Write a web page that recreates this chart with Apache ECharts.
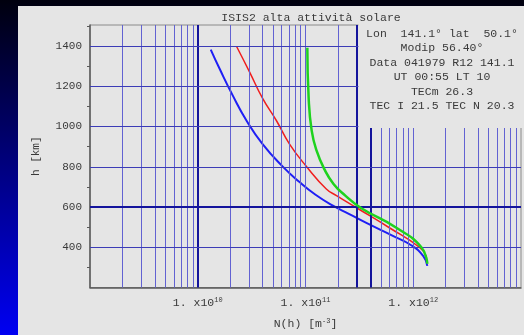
<!DOCTYPE html>
<html>
<head>
<meta charset="utf-8">
<script src="https://cdn.jsdelivr.net/npm/echarts@6.0.0/dist/echarts.min.js"></script>
<style>
  html, body { margin: 0; padding: 0; }
  body {
    width: 524px; height: 335px; overflow: hidden; position: relative;
    background: linear-gradient(to bottom, #00000e, #0000f2);
  }
  #panel { position: absolute; left: 18px; top: 6px; right: 0; bottom: 0; background: #e5e5e5; }
  #chart { position: absolute; left: 0; top: 0; width: 524px; height: 335px; }
</style>
</head>
<body>
<div id="panel"></div>
<div id="chart"></div>
<script>
// profili di densità elettronica N(h) [m^-3] vs quota h [km]
const blueN = [1.32e10, 1.60e10, 2.11e10, 2.84e10, 4.00e10, 6.12e10, 8.80e10, 1.24e11, 1.78e11, 2.55e11, 3.67e11, 6.40e11, 9.57e11, 1.24e12, 1.35e12];
const blueH = [1383, 1286, 1155, 1029, 913, 802, 724, 661, 608, 565, 521, 458, 410, 356, 308];

const redN = [2.30e10, 3.03e10, 4.00e10, 5.38e10, 7.11e10, 1.02e11, 1.56e11, 1.94e11, 3.03e11, 6.00e11, 1.14e12, 1.32e12];
const redH = [1397, 1271, 1140, 1029, 913, 802, 690, 657, 594, 497, 400, 356];

const greenN = [1.04e11, 1.07e11, 1.14e11, 1.26e11, 1.50e11, 1.82e11, 2.34e11, 3.30e11, 6.97e11, 1.19e12, 1.35e12];
const greenH = [1392, 1140, 981, 884, 787, 715, 657, 594, 497, 400, 318];

// griglia
const decades = [1e9, 1e10, 1e11, 1e12];
const mults = [1, 2, 3, 4, 5, 6, 7, 8, 9];
const thickN = [1e10, 3e11, 4e11];
const gridH = [400, 600, 800, 1000, 1200, 1400];
const thickH = [600];

const titleText = 'ISIS2 alta attività solare';
const infoLines = [
  'Lon  141.1\u00b0 lat  50.1\u00b0',
  'Modip 56.40\u00b0',
  'Data 041979 R12 141.1',
  'UT 00:55 LT 10',
  'TECm 26.3',
  'TEC I 21.5 TEC N 20.3'
];

const FONT = 'Liberation Mono';
const TXT = '#3a3a3a';

function pairs(xs, ys) {
  return xs.map((x, i) => [x, ys[i]]);
}

let gridLines = [];
decades.forEach(d => {
  mults.forEach(m => {
    const v = d * m;
    if (v <= 1e9) return;
    const thick = thickN.some(t => Math.abs(t - v) / t < 1e-6);
    gridLines.push({
      xAxis: v,
      lineStyle: thick ? {color: '#14149c', width: 2, type: 'solid'} : {color: '#6262d2', width: 1, type: 'solid'}
    });
  });
});
gridH.forEach(h => {
  const thick = thickH.indexOf(h) >= 0;
  gridLines.push({
    yAxis: h,
    lineStyle: thick ? {color: '#14149c', width: 2, type: 'solid'} : {color: '#3c3cb6', width: 1, type: 'solid'}
  });
});

let chart = echarts.init(document.getElementById('chart'), null, {renderer: 'canvas'});

let option = {
  animation: false,
  backgroundColor: 'transparent',
  title: {
    text: titleText,
    left: 306,
    top: 7,
    textAlign: 'center',
    textStyle: {fontFamily: FONT, fontSize: 11.5, fontWeight: 'normal', color: TXT}
  },
  grid: {
    left: 90, top: 25, right: 1, bottom: 40,
    show: true, borderColor: '#8a8a8a', borderWidth: 1, backgroundColor: 'transparent'
  },
  xAxis: {
    type: 'log',
    logBase: 10,
    min: 1e9,
    max: 1e13,
    name: 'N(h) [m{sup|-3}]',
    nameLocation: 'middle',
    nameGap: 30,
    nameTextStyle: {
      fontFamily: FONT, fontSize: 11.5, color: TXT,
      rich: {sup: {fontFamily: FONT, fontSize: 7, color: TXT, padding: [0, 0, 6, 0]}}
    },
    axisLine: {lineStyle: {color: '#5a5a5a', width: 1.5}},
    axisTick: {show: false},
    splitLine: {show: false},
    axisLabel: {
      fontFamily: FONT, fontSize: 11.5, color: TXT, margin: 9,
      formatter: function (v) {
        const e = Math.round(Math.log10(v));
        return (e >= 10 && e <= 12) ? '1. x10{sup|' + e + '}' : '';
      },
      rich: {sup: {fontFamily: FONT, fontSize: 7, color: TXT, padding: [0, 0, 6, 0]}}
    }
  },
  yAxis: {
    type: 'value',
    min: 200,
    max: 1505,
    interval: 200,
    name: 'h [km]',
    nameLocation: 'middle',
    nameGap: 48,
    nameTextStyle: {fontFamily: FONT, fontSize: 11, color: TXT},
    axisLine: {show: true, lineStyle: {color: '#5a5a5a', width: 1.5}},
    axisTick: {show: false},
    minorTick: {show: true, splitNumber: 2, length: 3, lineStyle: {color: '#5a5a5a'}},
    splitLine: {show: false},
    axisLabel: {
      fontFamily: FONT, fontSize: 11, color: TXT, margin: 8,
      formatter: function (v) {
        return (v >= 400 && v <= 1400) ? String(v) : '';
      }
    }
  },
  series: [
    {
      name: 'griglia',
      type: 'line',
      data: [],
      silent: true,
      z: 1,
      markLine: {
        silent: true,
        symbol: 'none',
        label: {show: false},
        animation: false,
        data: gridLines
      }
    },
    {
      name: 'blu',
      type: 'line',
      z: 3,
      smooth: true,
      showSymbol: false,
      lineStyle: {color: '#1f1ff5', width: 2},
      data: pairs(blueN, blueH)
    },
    {
      name: 'rosso',
      type: 'line',
      z: 4,
      smooth: true,
      showSymbol: false,
      lineStyle: {color: '#f01e1e', width: 1.5},
      data: pairs(redN, redH)
    },
    {
      name: 'verde',
      type: 'line',
      z: 5,
      smooth: true,
      showSymbol: false,
      lineStyle: {color: '#1ed21e', width: 2.5},
      data: pairs(greenN, greenH)
    }
  ]
};

chart.setOption(option);

// riquadro informazioni in alto a destra (copre la griglia sopra 1000 km oltre 3e11)
const corner = chart.convertToPixel({gridIndex: 0}, [3e11, 1000]);
const boxX = corner[0] + 1.5;
const boxY = corner[1] + 1.5;
let graphics = [{
  type: 'rect',
  z: 100,
  silent: true,
  shape: {x: boxX, y: 22, width: 524 - boxX, height: boxY - 22},
  style: {fill: '#e5e5e5'}
}];
infoLines.forEach((t, i) => {
  graphics.push({
    type: 'text',
    z: 101,
    silent: true,
    x: 442,
    y: 34 + i * 14.4,
    style: {
      text: t, fill: TXT, font: '11.5px "' + FONT + '"',
      align: 'center', verticalAlign: 'middle'
    }
  });
});
chart.setOption({graphic: graphics});
</script>
</body>
</html>
